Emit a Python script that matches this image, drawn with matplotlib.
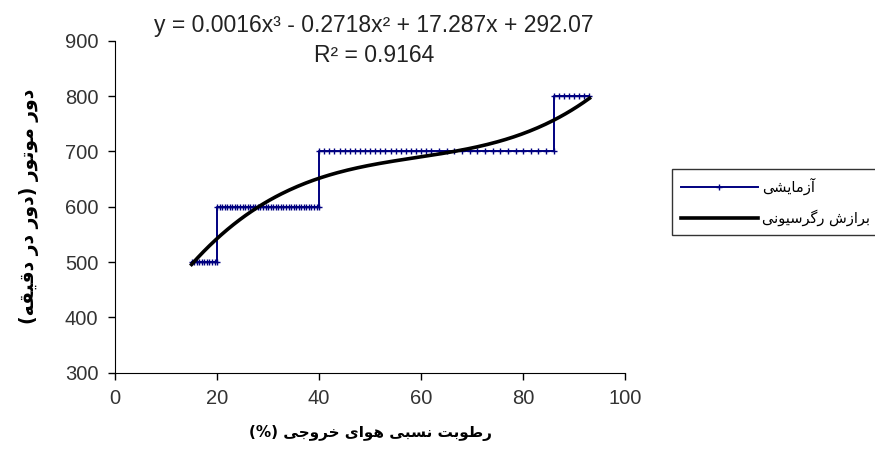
import numpy as np
import matplotlib.pyplot as plt

# experimental readings: outlet relative humidity (%) vs motor speed (rpm)
humidity = [15, 15.5, 16, 16.5, 17, 17.5, 18, 18.5, 19, 19.5, 20,
            20, 20.5, 21, 21.5, 22, 22.5, 23, 23.5, 24, 24.5, 25, 25.5, 26, 26.5, 27, 27.5,
            28, 28.5, 29, 29.5, 30, 30.5, 31, 31.5, 32, 32.5, 33, 33.5, 34, 34.5, 35, 35.5,
            36, 36.5, 37, 37.5, 38, 38.5, 39, 39.5, 40,
            40, 41, 42, 43, 44, 45, 46, 47, 48, 49, 50, 51, 52, 53, 54, 55, 56, 57, 58, 59, 60, 61, 62,
            63.5, 65, 66.5, 68, 69.5, 71, 72.5, 74, 75.5, 77, 78.5, 80, 81.5, 83, 84.5, 86,
            86, 87, 88, 89, 90, 91, 92, 93]
speed = [500] * 11 + [600] * 41 + [700] * 39 + [800] * 8

eq_text = 'y = 0.0016x³ - 0.2718x² + 17.287x + 292.07'
r2_text = 'R² = 0.9164'
xlabel = 'رطوبت نسبی هوای خروجی (%)'
ylabel = 'دور موتور (دور در دقیقه)'
leg_exp = 'آزمایشی'
leg_fit = 'برازش رگرسیونی'

# presentation forms: (isolated, final[, initial, medial])
FORMS = {
    'ا': (0xFE8D, 0xFE8E), 'آ': (0xFE81, 0xFE82), 'د': (0xFEA9, 0xFEAA),
    'ر': (0xFEAD, 0xFEAE), 'ز': (0xFEAF, 0xFEB0), 'و': (0xFEED, 0xFEEE),
    'ب': (0xFE8F, 0xFE90, 0xFE91, 0xFE92), 'ت': (0xFE95, 0xFE96, 0xFE97, 0xFE98),
    'ج': (0xFE9D, 0xFE9E, 0xFE9F, 0xFEA0), 'خ': (0xFEA5, 0xFEA6, 0xFEA7, 0xFEA8),
    'س': (0xFEB1, 0xFEB2, 0xFEB3, 0xFEB4), 'ش': (0xFEB5, 0xFEB6, 0xFEB7, 0xFEB8),
    'ط': (0xFEC1, 0xFEC2, 0xFEC3, 0xFEC4), 'ق': (0xFED5, 0xFED6, 0xFED7, 0xFED8),
    'م': (0xFEE1, 0xFEE2, 0xFEE3, 0xFEE4), 'ن': (0xFEE5, 0xFEE6, 0xFEE7, 0xFEE8),
    'ه': (0xFEE9, 0xFEEA, 0xFEEB, 0xFEEC), '\u06cc': (0xFBFC, 0xFBFD, 0xFBFE, 0xFBFF),
    '\u064a': (0xFBFC, 0xFBFD, 0xFBFE, 0xFBFF), 'گ': (0xFB92, 0xFB93, 0xFB94, 0xFB95),
}


def shape(text):
    # join letters and put them in visual (left-to-right) order
    out = []
    for i, ch in enumerate(text):
        f = FORMS.get(ch)
        if f is None:
            out.append(ch)
            continue
        prev = text[i - 1] if i > 0 else ''
        nxt = text[i + 1] if i + 1 < len(text) else ''
        jp = prev in FORMS and len(FORMS[prev]) == 4
        jn = len(f) == 4 and nxt in FORMS
        if jp and jn:
            code = f[3]
        elif jp:
            code = f[1]
        elif jn:
            code = f[2]
        else:
            code = f[0]
        out.append(chr(code))
    vis = ''.join(reversed(out))
    return vis.translate(str.maketrans('()', ')('))


# cubic trendline fitted to the readings
coef = np.polyfit(humidity, speed, 3)
x_fit = np.linspace(min(humidity), max(humidity), 200)
y_fit = np.polyval(coef, x_fit)

num_font = ['Liberation Sans Narrow', 'Liberation Sans']

fig = plt.figure(figsize=(8.75, 4.73), dpi=100)
ax = fig.add_axes([0.1315, 0.212, 0.583, 0.702])

ax.plot(humidity, speed, color='#000080', lw=1.4, marker='+', ms=4, mew=1,
        label=shape(leg_exp))
ax.plot(x_fit, y_fit, color='black', lw=2.6, label=shape(leg_fit))

ax.set_xlim(0, 100)
ax.set_ylim(300, 900)
ax.set_xticks([0, 20, 40, 60, 80, 100])
ax.set_yticks([300, 400, 500, 600, 700, 800, 900])
for s in ['top', 'right']:
    ax.spines[s].set_visible(False)
ax.tick_params(direction='out', length=5, width=1, labelsize=14.5, labelcolor='#333333', pad=7)
for lab in ax.get_xticklabels() + ax.get_yticklabels():
    lab.set_family(num_font)

ax.set_xlabel(shape(xlabel), fontsize=11, fontweight='bold', family='DejaVu Sans', labelpad=12)
ax.set_ylabel(shape(ylabel), fontsize=13.5, fontweight='bold', family='DejaVu Sans', labelpad=19)

fig.text(0.427, 0.947, eq_text, ha='center', va='center', fontsize=16.5,
         family=num_font, color='#222222')
fig.text(0.427, 0.883, r2_text, ha='center', va='center', fontsize=16.5,
         family=num_font, color='#222222')

leg = fig.legend(loc='center left', bbox_to_anchor=(0.768, 0.573), frameon=True,
                 fancybox=False, edgecolor='black', handlelength=5.3, handletextpad=0.3,
                 prop={'family': 'DejaVu Sans', 'size': 10.5}, borderpad=0.6, labelspacing=1.0,
                 borderaxespad=0)
leg.get_frame().set_linewidth(1)

fig.savefig('out.png', dpi=100)
